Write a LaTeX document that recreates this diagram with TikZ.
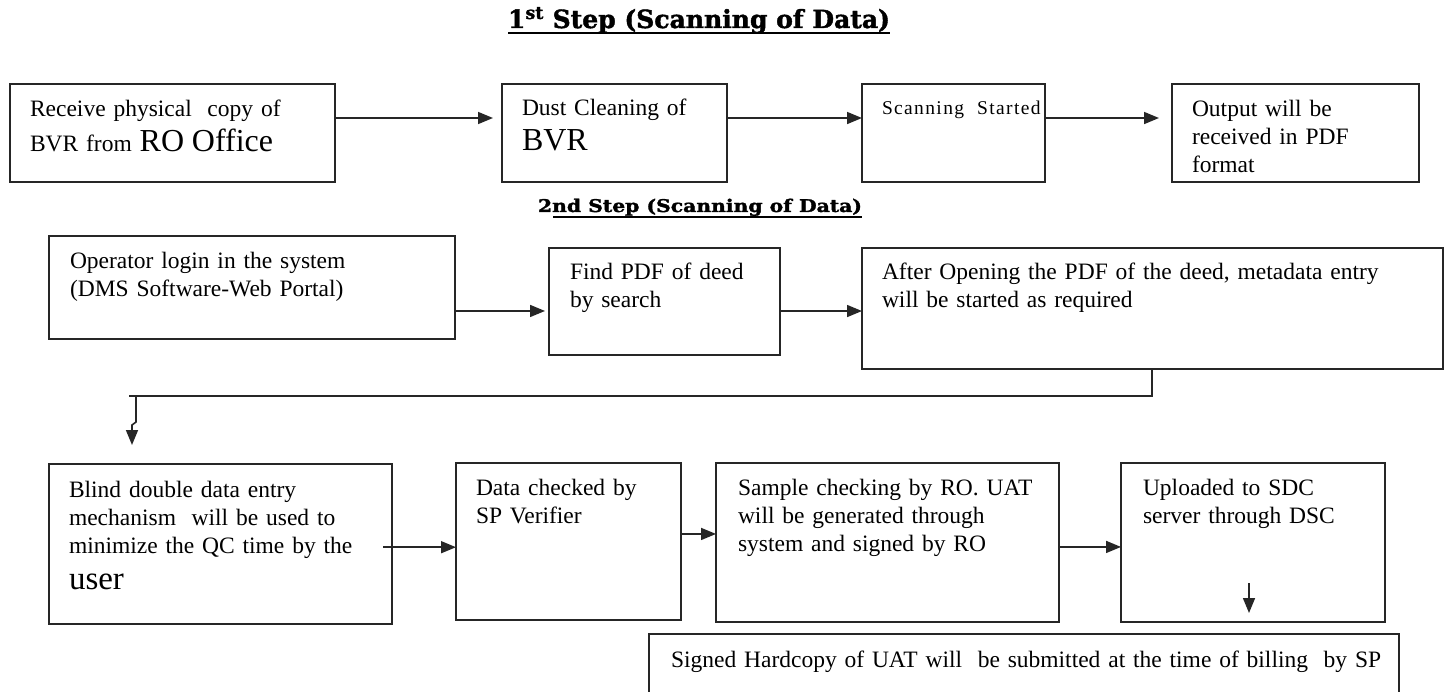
\documentclass[tikz,border=0pt]{standalone}
\usepackage{fontspec}
\setmainfont{Liberation Serif}
\newfontfamily\titlefont{DejaVu Serif}[FakeBold=1.6]
\usetikzlibrary{arrows.meta,calc}
\definecolor{linec}{HTML}{262626}
\tikzset{
  box/.style={draw=linec, line width=1.3pt, anchor=north west, inner sep=0pt, outer sep=0pt},
  txt/.style={anchor=base west, inner sep=0pt, outer sep=0pt, text width=600pt, align=left,
              font=\fontsize{23.5}{28}\selectfont},
  arr/.style={draw=linec, line width=1.6pt, -{Triangle[length=15pt,width=12pt]}},
  plainline/.style={draw=linec, line width=1.6pt},
  ttl/.style={anchor=base west, inner sep=0pt, outer sep=0pt}
}
\newcommand{\bigtx}[1]{{\fontsize{32}{36}\selectfont #1}}
\begin{document}
\begin{tikzpicture}[x=1pt,y=-1pt]
\useasboundingbox[fill=white] (0,0) rectangle (1450,692);

% titles
\node[ttl] (t1) at (508,28) {\resizebox{382pt}{\height}{\titlefont\bfseries\fontsize{25}{30}\selectfont 1\textsuperscript{st} Step (Scanning of Data)}};
\draw[line width=1.8pt] ($(t1.base west)+(0,5)$) -- ($(t1.base east)+(0,5)$);
\node[ttl] (t2) at (538,212) {\resizebox{324pt}{\height}{\titlefont\bfseries\fontsize{17.5}{21}\selectfont 2nd Step (Scanning of Data)}};
\draw[line width=1.5pt] ($(t2.base west)+(15,5)$) -- ($(t2.base east)+(0,5)$);

% row 1
\node[box, minimum width=325pt, minimum height=98pt] (b1) at (10,84) {};
\node[txt] (b1t) at (30,117) {Receive physical\ \ copy of\\[7pt]BVR from \bigtx{RO Office}};
\node[box, minimum width=225pt, minimum height=98pt] (b2) at (502,84) {};
\node[txt] (b2t) at (522,116) {Dust Cleaning of\\[7pt]\bigtx{BVR}};
\node[box, minimum width=183pt, minimum height=98pt] (b3) at (862,84) {};
\node[txt, font={\fontsize{19.5}{24}\selectfont\addfontfeature{LetterSpace=7}}] (b3t) at (882,115) {Scanning\ \ Started};
\node[box, minimum width=247pt, minimum height=98pt] (b4) at (1172,84) {};
\node[txt] (b4t) at (1192,117) {Output will be\\received in PDF\\format};

% row 2
\node[box, minimum width=406pt, minimum height=103pt] (c1) at (49,236) {};
\node[txt] (c1t) at (70,269) {Operator login in the system\\(DMS Software-Web Portal)};
\node[box, minimum width=231pt, minimum height=107pt] (c2) at (549,248) {};
\node[txt] (c2t) at (570,280) {Find PDF of deed\\by search};
\node[box, minimum width=581pt, minimum height=121pt] (c3) at (862,248) {};
\node[txt] (c3t) at (882,280) {After Opening the PDF of the deed, metadata entry\\will be started as required};

% row 3
\node[box, minimum width=343pt, minimum height=160pt] (d1) at (49,464) {};
\node[txt] (d1t) at (69,497) {Blind double data entry\\mechanism\ \ will be used to\\minimize the QC time by the\\[8pt]{\fontsize{33}{36}\selectfont user}};
\node[box, minimum width=225pt, minimum height=157pt] (d2) at (456,463) {};
\node[txt] (d2t) at (476,495) {Data checked by\\SP Verifier};
\node[box, minimum width=343pt, minimum height=159pt] (d3) at (716,463) {};
\node[txt] (d3t) at (738,495) {Sample checking by RO. UAT\\will be generated through\\system and signed by RO};
\node[box, minimum width=264pt, minimum height=159pt] (d4) at (1121,463) {};
\node[txt] (d4t) at (1143,495) {Uploaded to SDC\\server through DSC};

% row 4
\node[box, minimum width=750pt, minimum height=90pt] (e) at (649,634) {};
\node[txt, text width=800pt] (et) at (671,667) {Signed Hardcopy of UAT will\ \ be submitted at the time of billing\ \ by SP};

% connectors row 1
\coordinate (p1) at ($(b1.north east)!0.347!(b1.south east)$);
\coordinate (p2) at ($(b2.north east)!0.347!(b2.south east)$);
\coordinate (p3) at ($(b3.north east)!0.347!(b3.south east)$);
\draw[arr, shorten >=9pt] (p1) -- (b2.west |- p1);
\draw[arr] (p2) -- (b3.west |- p2);
\draw[arr, shorten >=13pt] (p3) -- (b4.west |- p3);

% connectors row 2
\coordinate (r1) at ($(c1.north east)!0.728!(c1.south east)$);
\coordinate (r2) at ($(c2.north east)!0.589!(c2.south east)$);
\draw[arr, shorten >=4pt] (r1) -- (c2.west |- r1);
\draw[arr] (r2) -- (c3.west |- r2);

% connector c3 -> d1
\coordinate (c3o) at ($(c3.south west)+(290,0)$);
\coordinate (dend) at ($(d1.north west)+(83,-19)$);
\draw[plainline] (c3o) -- ++(0,27) -- (129,396);
\draw[arr] (136,396) -- (136,422) -- (132,425) -- (dend);

% connectors row 3
\coordinate (q1) at ($(d1.north east)!0.52!(d1.south east)+(-9,0)$);
\coordinate (q2) at ($(d2.north east)!0.452!(d2.south east)$);
\coordinate (q3) at ($(d3.north east)!0.528!(d3.south east)$);
\draw[arr] (q1) -- (d2.west |- q1);
\draw[arr] (q2) -- (d3.west |- q2);
\draw[arr] (q3) -- (d4.west |- q3);

% arrow inside d4 towards e
\coordinate (s1) at ($(d4.south west)+(128,-39)$);
\coordinate (s2) at ($(d4.south west)+(128,-9)$);
\draw[arr] (s1) -- (s2);
\end{tikzpicture}
\end{document}
